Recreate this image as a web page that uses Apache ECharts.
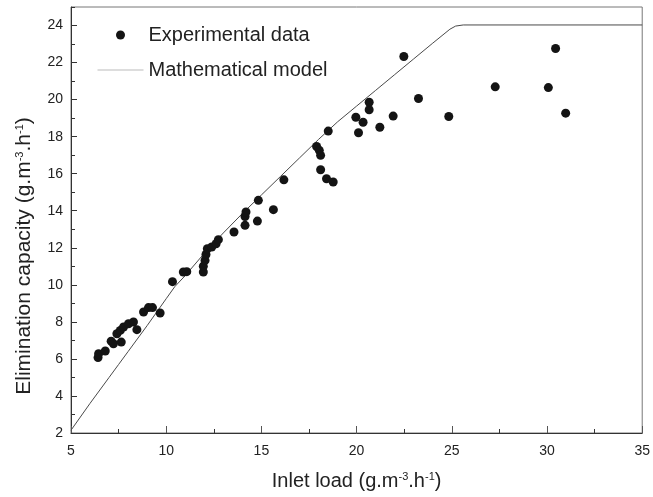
<!DOCTYPE html>
<html>
<head>
<meta charset="utf-8">
<script src="https://cdn.jsdelivr.net/npm/echarts@6/dist/echarts.min.js"></script>
<style>
	html, body { margin: 0; padding: 0; background: #ffffff; }
	#chart { width: 653px; height: 497px; }
</style>
</head>
<body>
<div id="chart"></div>
<script>
	// experimental points
	var expX = [6.42, 6.45, 6.80, 7.11, 7.23, 7.41, 7.59, 7.64, 7.76, 8.02, 8.28, 8.46, 8.81, 9.07, 9.28, 9.68,
		10.33, 10.90, 11.08, 11.95, 11.95, 12.04, 12.09, 12.16, 12.39, 12.62, 12.74, 13.56, 14.14, 14.14, 14.19,
		14.79, 14.84, 15.63, 16.18, 17.90, 18.04, 18.11, 18.11, 18.42, 18.77, 18.51, 19.96, 20.10, 20.34, 20.66,
		20.66, 21.22, 21.92, 22.48, 23.25, 24.84, 27.28, 30.07, 30.45, 30.98];
	var expY = [6.07, 6.28, 6.43, 6.96, 6.82, 7.36, 7.54, 6.91, 7.72, 7.90, 7.99, 7.58, 8.53, 8.77, 8.77, 8.48,
		10.17, 10.69, 10.71, 10.69, 11.00, 11.32, 11.64, 11.95, 12.04, 12.22, 12.44, 12.85, 13.21, 13.69, 13.93,
		13.44, 14.56, 14.06, 15.67, 17.47, 17.26, 16.99, 16.21, 15.73, 15.55, 18.30, 19.05, 18.21, 18.78, 19.45,
		19.86, 18.51, 19.11, 22.33, 20.06, 19.09, 20.69, 20.65, 22.76, 19.27];

	// model curve
	var modelX = [5, 6, 7, 7.5, 8, 9, 10, 10.45, 11, 12, 13, 14, 15, 16, 17, 18, 19, 20, 21, 22, 23, 24, 24.9, 25.2, 25.6, 35];
	var modelY = [2.15, 3.6, 5.0, 5.7, 6.4, 7.8, 9.25, 9.9, 10.5, 11.7, 12.8, 13.85, 14.85, 15.85, 16.85, 17.85, 18.8, 19.65, 20.5, 21.35, 22.2, 23.05, 23.8, 23.97, 24.03, 24.03];

	// axes
	var xMin = 5, xMax = 35, xStep = 5;
	var yMin = 2, yMax = 25, yStep = 2;

	var FONT = "'Liberation Sans', Arial, sans-serif";

	function zip(a, b) {
		return a.map(function (v, i) { return [v, b[i]]; });
	}

	function unitRich(size) {
		return {
			n: { fontFamily: FONT, color: '#222222', fontSize: size },
			s: { fontFamily: FONT, color: '#222222', fontSize: 11, padding: [0, 0, 10, 0] }
		};
	}

	var chart = echarts.init(document.getElementById('chart'));
	chart.setOption({
		backgroundColor: '#ffffff',
		animation: false,
		grid: {
			left: 71,
			right: 10,
			top: 7,
			bottom: 64,
			show: true,
			borderColor: '#777777',
			borderWidth: 1
		},
		legend: {
			orient: 'vertical',
			left: 97,
			top: 23,
			padding: 0,
			itemWidth: 46,
			itemHeight: 9,
			itemGap: 11,
			textStyle: { fontFamily: FONT, fontSize: 20, color: '#222222', lineHeight: 24 },
			data: [
				{ name: 'Experimental data', icon: 'circle' },
				{ name: 'Mathematical model', itemStyle: { opacity: 0 }, lineStyle: { color: '#bbbbbb', width: 1 } }
			]
		},
		xAxis: {
			type: 'value',
			min: xMin,
			max: xMax,
			interval: xStep,
			name: '{n|Inlet load (g.m}{s|-3}{n|.h}{s|-1}{n|)}',
			nameLocation: 'middle',
			nameGap: 38,
			nameTextStyle: { fontSize: 20, rich: unitRich(20) },
			axisLine: { lineStyle: { color: '#333333', width: 1 } },
			axisTick: { inside: true, length: 7, lineStyle: { color: '#555555' } },
			minorTick: { show: true, splitNumber: 2, length: 4, lineStyle: { color: '#333333' } },
			axisLabel: { fontFamily: FONT, fontSize: 14, color: '#222222', margin: 11 },
			splitLine: { show: false }
		},
		yAxis: [{
			type: 'value',
			position: 'left',
			min: yMin,
			max: yMax,
			interval: yStep,
			name: '{n|Elimination capacity (g.m}{s|-3}{n|.h}{s|-1}{n|)}',
			nameLocation: 'middle',
			nameGap: 36,
			nameTextStyle: { fontSize: 21, padding: [0, 72, 0, 0], rich: unitRich(21) },
			axisLine: { show: true, lineStyle: { color: '#333333', width: 1 } },
			axisTick: { inside: true, length: 6, lineStyle: { color: '#333333' } },
			axisLabel: { fontFamily: FONT, fontSize: 14, color: '#222222', margin: 8, showMaxLabel: false },
			splitLine: { show: false }
		}, {
			// short ticks at the odd values
			type: 'value',
			position: 'left',
			min: yMin,
			max: yMax,
			interval: 1,
			axisLine: { show: false },
			axisTick: { inside: true, length: 4, lineStyle: { color: '#333333' } },
			axisLabel: { show: false },
			splitLine: { show: false }
		}],
		series: [{
			name: 'Experimental data',
			type: 'scatter',
			symbol: 'circle',
			symbolSize: 9,
			itemStyle: { color: '#141414', opacity: 1 },
			data: zip(expX, expY),
			z: 3
		}, {
			name: 'Mathematical model',
			type: 'line',
			symbol: 'none',
			showSymbol: false,
			lineStyle: { color: '#4a4a4a', width: 1 },
			data: zip(modelX, modelY),
			z: 2
		}]
	});
</script>
</body>
</html>
